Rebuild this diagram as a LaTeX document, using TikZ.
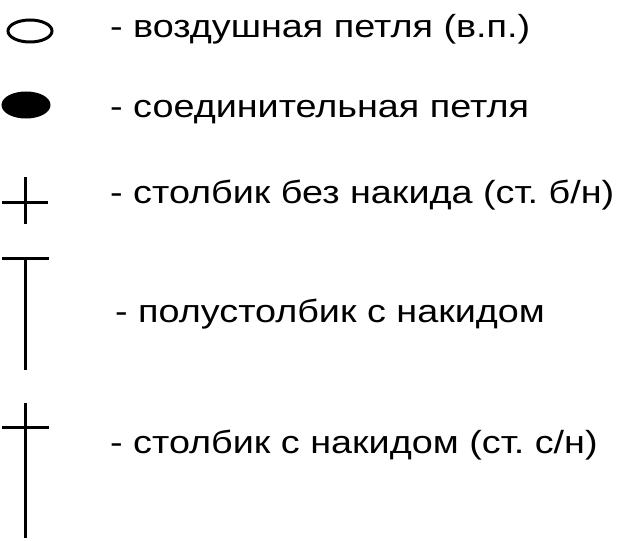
\documentclass[tikz,border=0pt]{standalone}
\usepackage{fontspec}
\setmainfont{Liberation Sans}[FakeStretch=1.18]
\frenchspacing
\usetikzlibrary{positioning}
\tikzstyle{sym} = [line width=3pt,black]
\tikzstyle{legend} = [anchor=base west,inner sep=0pt,font=\fontsize{32}{38}\selectfont]

\begin{document}
\begin{tikzpicture}[x=1pt,y=-1pt]
\useasboundingbox (0,0) rectangle (620,540);

\draw[sym] (30,31) ellipse (22 and 11);
\filldraw[sym] (26,105) ellipse (23 and 12);

\draw[sym] (2,202) -- (48,202);
\draw[sym] (25,177) -- (25,224);

\draw[sym] (2,258) -- (49,258);
\draw[sym] (25,258) -- (25,370);

\draw[sym] (2,427) -- (49,427);
\draw[sym] (25,403) -- (25,538);

\node[legend] (vp) at (110,38) {- воздушная петля (в.п.)};
\node[legend] (sp) at (110,118) {- соединительная петля};
\node[legend] (sbn) at (110,203) {- столбик без накида (ст. б/н)};
\node[legend] (pss) at (115,322) {- полустолбик с накидом};
\node[legend] (ssn) at (110,453) {- столбик с накидом (ст. с/н)};
\end{tikzpicture}
\end{document}
